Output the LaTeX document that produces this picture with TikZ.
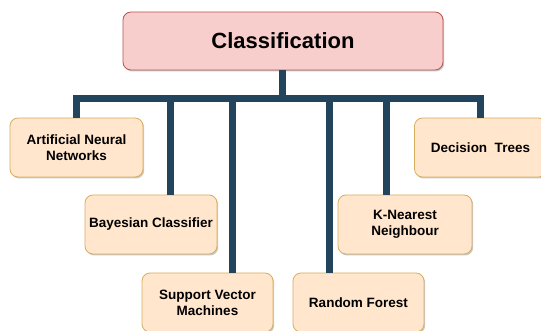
\documentclass[tikz,border=0pt]{standalone}
\usepackage{fontspec}
\setmainfont{Liberation Sans}
\usetikzlibrary{shadows}
\definecolor{rootfill}{HTML}{F8CECC}
\definecolor{rootdraw}{HTML}{B85450}
\definecolor{leaffill}{HTML}{FFE6CC}
\definecolor{leafdraw}{HTML}{D7AE60}
\definecolor{linkcol}{HTML}{23445D}
\tikzset{
  boxshadow/.style={drop shadow={shadow xshift=1.2pt,shadow yshift=-1.5pt,opacity=0.35,fill=black!60}},
  rootbox/.style={draw=rootdraw,fill=rootfill,line width=0.8pt,rounded corners=8pt,
    minimum width=320pt,minimum height=58pt,boxshadow,
    font=\bfseries\fontsize{22}{26}\selectfont},
  leafbox/.style={draw=leafdraw,fill=leaffill,line width=0.8pt,rounded corners=8pt,
    minimum height=59pt,boxshadow,align=center,
    font=\bfseries\fontsize{13.5}{16}\selectfont},
  link/.style={draw=linkcol,line width=7pt,line join=miter}
}
\begin{document}
\begin{tikzpicture}[x=1pt,y=-1pt]
\useasboundingbox (0,0) rectangle (541,331);
\coordinate (hub) at (282.5,98.5);
\coordinate (dann) at (76.5,98.5);
\coordinate (dbay) at (170.5,98.5);
\coordinate (dsvm) at (232,98.5);
\coordinate (drf) at (329,98.5);
\coordinate (dknn) at (386.5,98.5);
\coordinate (ddt) at (480.5,98.5);
\node[rootbox] (root) at (283,41) {Classification};
\node[leafbox,minimum width=133pt] (ann) at (76.5,147.5) {Artificial Neural\\Networks};
\node[leafbox,minimum width=132pt] (bay) at (151,224.5) {Bayesian Classifier};
\node[leafbox,minimum width=131pt] (svm) at (207.5,302.5) {Support Vector\\Machines};
\node[leafbox,minimum width=131pt] (rf) at (358.5,302.5) {Random Forest};
\node[leafbox,minimum width=134pt] (knn) at (405,224.5) {K-Nearest\\Neighbour};
\node[leafbox,minimum width=132pt] (dt) at (480.5,147.5) {Decision\ \ Trees};
\draw[link] (root.south -| hub) -- (hub);
\draw[link] (ann.north -| dann) -- (dann) -- (ddt) -- (dt.north -| ddt);
\draw[link] (dbay) -- (dbay |- bay.north);
\draw[link] (dsvm) -- (dsvm |- svm.north);
\draw[link] (drf) -- (drf |- rf.north);
\draw[link] (dknn) -- (dknn |- knn.north);
\end{tikzpicture}
\end{document}
